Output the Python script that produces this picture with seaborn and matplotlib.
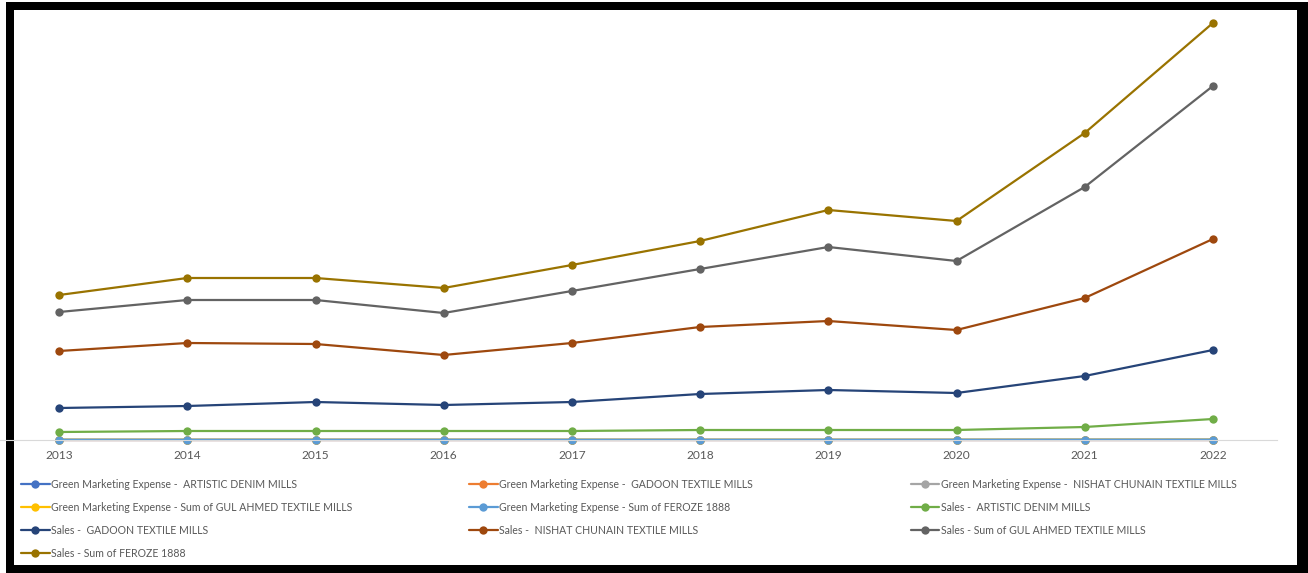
import matplotlib
matplotlib.use("Agg")
import matplotlib.pyplot as plt
from matplotlib.patches import Rectangle
import seaborn as sns
import pandas as pd

# Data (arbitrary units)
years = [2013, 2014, 2015, 2016, 2017, 2018, 2019, 2020, 2021, 2022]

gme_artistic = [0.1, 0.1, 0.1, 0.1, 0.1, 0.1, 0.1, 0.1, 0.1, 0.1]
gme_gadoon = [0.1, 0.1, 0.1, 0.1, 0.1, 0.1, 0.1, 0.1, 0.1, 0.1]
gme_nishat = [0.2, 0.2, 0.2, 0.2, 0.2, 0.2, 0.2, 0.2, 0.2, 0.3]
gme_gul = [0.2, 0.2, 0.2, 0.2, 0.2, 0.2, 0.2, 0.2, 0.3, 0.3]
gme_feroze = [0.2, 0.2, 0.2, 0.2, 0.2, 0.2, 0.2, 0.2, 0.3, 0.3]
sales_artistic = [8, 9, 9, 9, 9, 10, 10, 10, 13, 21]
sales_gadoon = [32, 34, 38, 35, 38, 46, 50, 47, 64, 90]
sales_nishat = [89, 97, 96, 85, 97, 113, 119, 110, 142, 201]
sales_gul = [128, 140, 140, 127, 149, 171, 193, 179, 253, 354]
sales_feroze = [145, 162, 162, 152, 175, 199, 230, 219, 307, 417]

series_names = [
    "Green Marketing Expense -  ARTISTIC DENIM MILLS",
    "Green Marketing Expense -  GADOON TEXTILE MILLS",
    "Green Marketing Expense -  NISHAT CHUNAIN TEXTILE MILLS",
    "Green Marketing Expense - Sum of GUL AHMED TEXTILE MILLS",
    "Green Marketing Expense - Sum of FEROZE 1888",
    "Sales -  ARTISTIC DENIM MILLS",
    "Sales -  GADOON TEXTILE MILLS",
    "Sales -  NISHAT CHUNAIN TEXTILE MILLS",
    "Sales - Sum of GUL AHMED TEXTILE MILLS",
    "Sales - Sum of FEROZE 1888",
]
series_values = [gme_artistic, gme_gadoon, gme_nishat, gme_gul, gme_feroze,
                 sales_artistic, sales_gadoon, sales_nishat, sales_gul, sales_feroze]
colors = ["#4472C4", "#ED7D31", "#A5A5A5", "#FFC000", "#5B9BD5",
          "#70AD47", "#264478", "#9E480E", "#636363", "#997300"]

rows = []
for name, vals in zip(series_names, series_values):
    for y, v in zip(years, vals):
        rows.append({"series": name, "year": y, "value": v})
df = pd.DataFrame(rows)

sns.set_style("white")
plt.rcParams["font.family"] = ["Lato", "DejaVu Sans"]

W, H = 1308, 573
fig = plt.figure(figsize=(W / 100, H / 100), dpi=100)

# black frame around the chart
fig.patches.append(Rectangle((6 / W, 0), 1 - 6 / W, 1 - 2 / H, transform=fig.transFigure,
                             facecolor="black", edgecolor="none", zorder=-10))
fig.patches.append(Rectangle((14 / W, (H - 565) / H), (1297 - 14) / W, (565 - 10) / H,
                             transform=fig.transFigure, facecolor="white",
                             edgecolor="none", zorder=-9))

ax = fig.add_axes([-5 / W, (H - 440) / H, 1282 / W, 430 / H])
ax.patch.set_alpha(0)

for name, c in zip(series_names, colors):
    sns.lineplot(data=df[df["series"] == name], x="year", y="value", ax=ax,
                 color=c, marker="o", markersize=6, markeredgewidth=0,
                 linewidth=1.6, label=name, clip_on=False)

ax.set_xlim(2012.5, 2022.5)
ax.set_ylim(0, 430)
ax.set_xticks(years)
ax.set_xticklabels([str(y) for y in years], fontsize=8.6, color="#595959")
ax.set_yticks([])
ax.set_xlabel("")
ax.set_ylabel("")
ax.tick_params(axis="x", length=0, pad=7)
for side in ["left", "right", "top"]:
    ax.spines[side].set_visible(False)
ax.spines["bottom"].set_color("#D9D9D9")
ax.spines["bottom"].set_linewidth(0.8)

handles, labels = ax.get_legend_handles_labels()
ax.get_legend().remove()

# legend laid out row by row, in three columns
col_x = [21, 469, 911]
for ci, x0 in enumerate(col_x):
    idx = list(range(ci, len(handles), 3))
    fig.legend([handles[i] for i in idx], [labels[i] for i in idx],
               loc="upper left", bbox_to_anchor=(x0 / W, (H - 479) / H),
               frameon=False, fontsize=7.6, labelcolor="#595959",
               handlelength=2.7, handletextpad=0.1, labelspacing=1.14,
               borderpad=0, borderaxespad=0)

fig.savefig("out.png", dpi=100)
